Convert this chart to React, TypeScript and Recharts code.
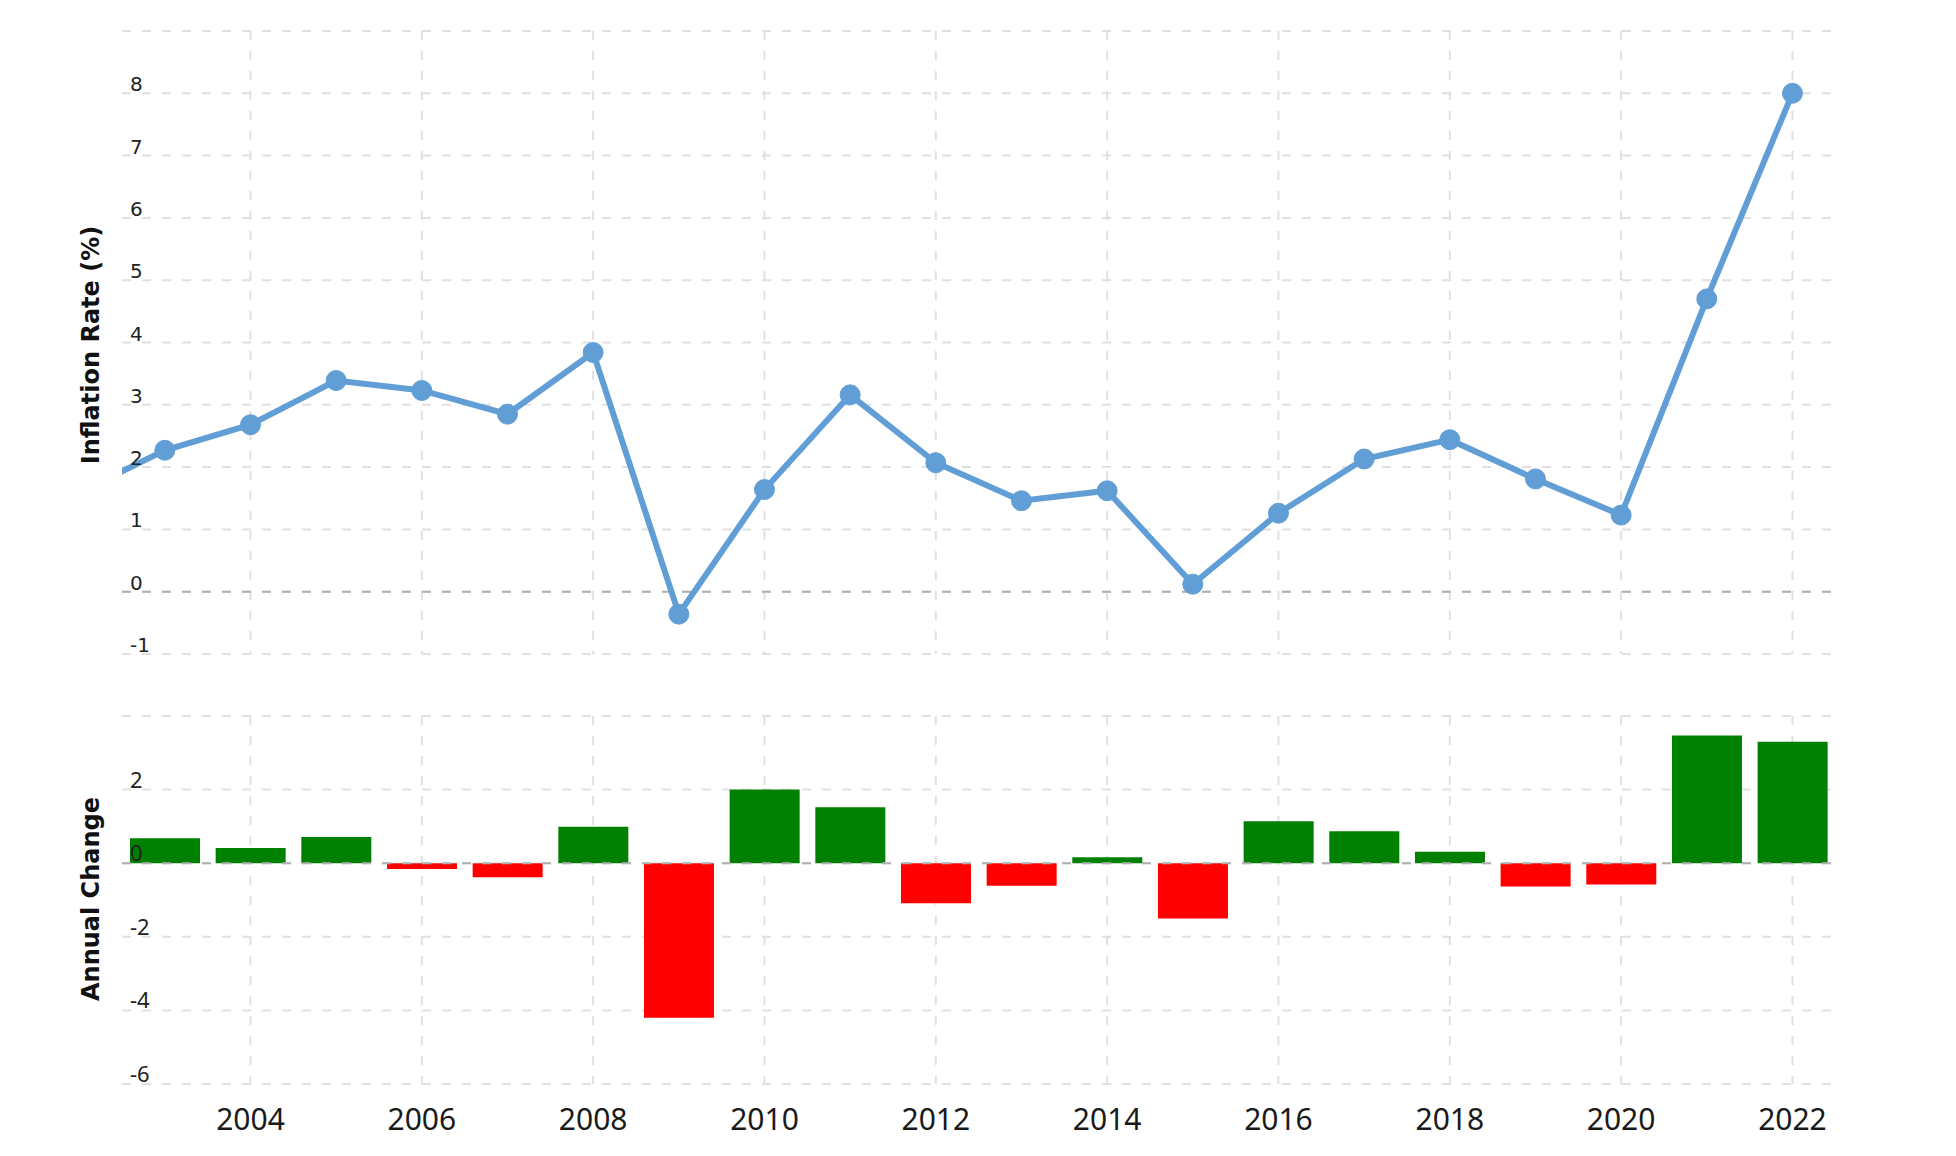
import {
  Bar,
  BarChart,
  CartesianGrid,
  Cell,
  Line,
  LineChart,
  ReferenceLine,
  XAxis,
  YAxis,
} from "recharts";

const years = [
  2002, 2003, 2004, 2005, 2006, 2007, 2008, 2009, 2010, 2011, 2012, 2013, 2014,
  2015, 2016, 2017, 2018, 2019, 2020, 2021, 2022,
];
const inflation = [
  1.59, 2.27, 2.68, 3.39, 3.23, 2.85, 3.84, -0.36, 1.64, 3.16, 2.07, 1.46, 1.62,
  0.12, 1.26, 2.13, 2.44, 1.81, 1.23, 4.7, 8.0,
];
const changeYears = [
  2003, 2004, 2005, 2006, 2007, 2008, 2009, 2010, 2011, 2012, 2013, 2014, 2015,
  2016, 2017, 2018, 2019, 2020, 2021, 2022,
];
const annualChange = [
  0.68, 0.41, 0.71, -0.16, -0.38, 0.99, -4.2, 2.0, 1.52, -1.09, -0.61, 0.16,
  -1.5, 1.14, 0.87, 0.31, -0.63, -0.58, 3.47, 3.3,
];
const yearTicks = [2004, 2006, 2008, 2010, 2012, 2014, 2016, 2018, 2020, 2022];
const rateTicks = [-1, 0, 1, 2, 3, 4, 5, 6, 7, 8, 9];
const changeTicks = [-6, -4, -2, 0, 2, 4];

const rateData = years.map((year, i) => ({ year, rate: inflation[i] }));
const changeData = changeYears.map((year, i) => ({ year, change: annualChange[i] }));

const W = 1956;
const LEFT = 122;
const RIGHT = 125;
const Y_AXIS_W = 40;
const X_DOMAIN: [number, number] = [2002.5, 2022.45];
const LINE_COLOR = "#619ed6";
const GRID = "#e0e0e0";
const DASH = "9 11";

// labels sit inside the plot, just above their grid line
const RateTick = ({ y, payload }: any) =>
  payload.value === 9 ? (
    <g />
  ) : (
    <text x={LEFT + 8} y={y - 2} fontFamily="DejaVu Sans" fontSize={20} fill="#222">
      {payload.value}
    </text>
  );

const ChangeTick = ({ y, payload }: any) =>
  payload.value === 4 ? (
    <g />
  ) : (
    <text x={LEFT + 8} y={y - 2} fontFamily="Noto Sans" fontSize={22} fill="#222">
      {payload.value}
    </text>
  );

const YearTick = ({ x, y, payload }: any) => (
  <text x={x} y={y + 46} textAnchor="middle" fontFamily="Noto Sans" fontSize={30} fill="#1a1a1a">
    {payload.value}
  </text>
);

const axisTitle = (top: number): React.CSSProperties => ({
  position: "absolute",
  left: 91,
  top,
  transform: "translate(-50%, -50%) rotate(-90deg)",
  whiteSpace: "nowrap",
  fontFamily: "DejaVu Sans",
  fontWeight: "bold",
  fontSize: 24,
  color: "#111",
});

const App = () => {
  return (
    <div style={{ position: "absolute", left: 0, top: 0, width: W, height: 1156, background: "#fff" }}>
      <div style={{ position: "absolute", left: 0, top: 0 }}>
        <LineChart
          width={W}
          height={700}
          data={rateData}
          margin={{ top: 31, right: RIGHT, bottom: 46, left: LEFT - Y_AXIS_W }}
        >
          <CartesianGrid stroke={GRID} strokeDasharray={DASH} strokeWidth={2} syncWithTicks />
          <XAxis
            dataKey="year"
            type="number"
            domain={X_DOMAIN}
            ticks={yearTicks}
            allowDataOverflow
            hide
          />
          <YAxis
            type="number"
            domain={[-1, 9]}
            ticks={rateTicks}
            width={Y_AXIS_W}
            axisLine={false}
            tickLine={false}
            tick={RateTick}
            interval={0}
          />
          <ReferenceLine y={0} stroke="#b0b0b0" strokeDasharray={DASH} strokeWidth={2} />
          <Line
            dataKey="rate"
            stroke={LINE_COLOR}
            strokeWidth={6}
            dot={{ r: 10, fill: LINE_COLOR, stroke: LINE_COLOR, strokeWidth: 1 }}
            isAnimationActive={false}
          />
        </LineChart>
      </div>
      <div style={{ position: "absolute", left: 0, top: 680 }}>
        <BarChart
          width={W}
          height={476}
          data={changeData}
          margin={{ top: 36, right: RIGHT, bottom: 12, left: LEFT - Y_AXIS_W }}
        >
          <CartesianGrid stroke={GRID} strokeDasharray={DASH} strokeWidth={2} syncWithTicks />
          <XAxis
            dataKey="year"
            type="number"
            domain={X_DOMAIN}
            ticks={yearTicks}
            allowDataOverflow
            height={60}
            axisLine={false}
            tickLine={false}
            tickSize={0}
            tickMargin={0}
            tick={YearTick}
            interval={0}
          />
          <YAxis
            type="number"
            domain={[-6, 4]}
            ticks={changeTicks}
            width={Y_AXIS_W}
            axisLine={false}
            tickLine={false}
            tick={ChangeTick}
            interval={0}
          />
          <ReferenceLine y={0} stroke="#b0b0b0" strokeDasharray={DASH} strokeWidth={2} />
          <Bar dataKey="change" barSize={70} isAnimationActive={false}>
            {changeData.map((d) => (
              <Cell key={d.year} fill={d.change >= 0 ? "#008000" : "#ff0000"} />
            ))}
          </Bar>
        </BarChart>
      </div>
      <div style={axisTitle(345)}>Inflation Rate (%)</div>
      <div style={axisTitle(899)}>Annual Change</div>
    </div>
  );
};

export default App;
